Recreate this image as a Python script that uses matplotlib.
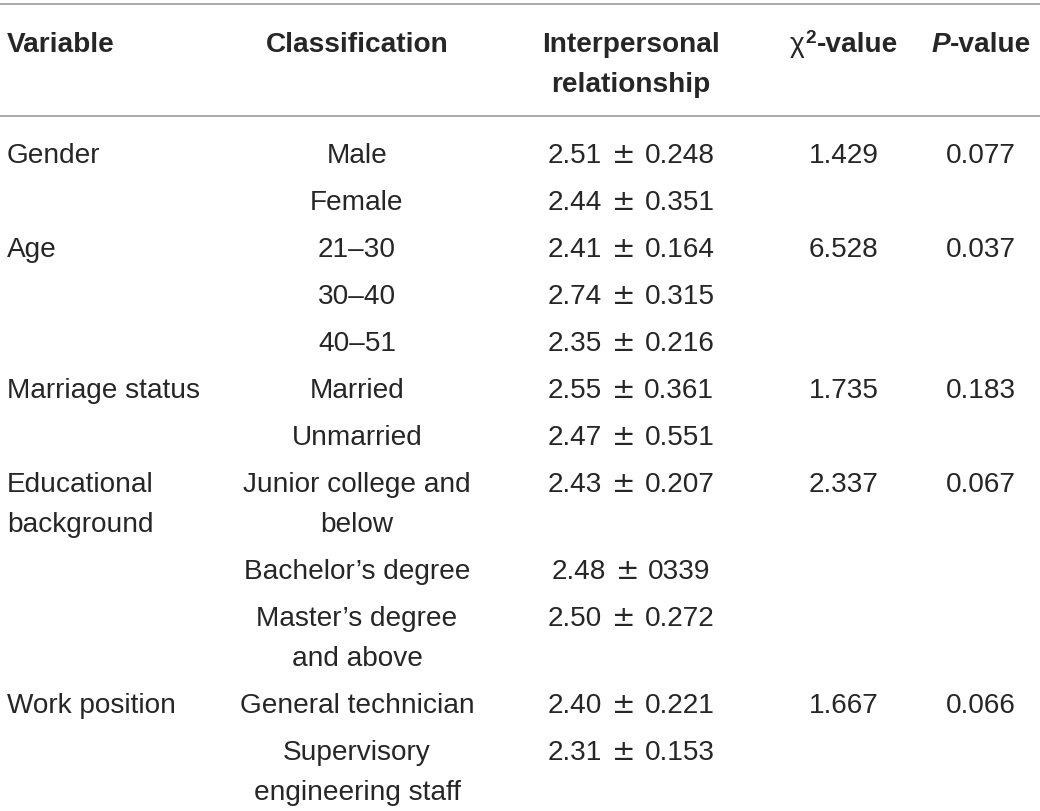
import matplotlib
matplotlib.use("Agg")
import matplotlib.pyplot as plt

plt.rcParams['font.family'] = ['Liberation Sans', 'DejaVu Sans']

# ---- data ----
variables = ["Gender", "", "Age", "", "", "Marriage status", "",
             "Educational\nbackground", "", "", "Work position", ""]
classifications = ["Male", "Female", "21\u201330", "30\u201340", "40\u201351",
                   "Married", "Unmarried", "Junior college and\nbelow",
                   "Bachelor\u2019s degree", "Master\u2019s degree\nand above",
                   "General technician", "Supervisory\nengineering staff"]
means = ["2.51", "2.44", "2.41", "2.74", "2.35", "2.55", "2.47", "2.43",
         "2.48", "2.50", "2.40", "2.31"]
sds = ["0.248", "0.351", "0.164", "0.315", "0.216", "0.361", "0.551",
       "0.207", "0339", "0.272", "0.221", "0.153"]
chi2_values = ["1.429", "", "6.528", "", "", "1.735", "", "2.337", "", "",
               "1.667", ""]
p_values = ["0.077", "", "0.037", "", "", "0.183", "", "0.067", "", "",
            "0.066", ""]

# ---- layout ----
W, H = 1040, 812
fig = plt.figure(figsize=(W / 100, H / 100), dpi=100)
ax = fig.add_axes([0, 0, 1, 1])
ax.set_xlim(0, W)
ax.set_ylim(H, 0)
ax.axis('off')
fig.canvas.draw()
R = fig.canvas.get_renderer()

fs = 20.2
txt_color = '#262626'
line_color = '#9a9a9a'

col_var_x = 7
col_cls_x = 357
col_ir_x = 631
col_chi_x = 844
col_p_x = 981


def group_center(xc, y, parts):
    """parts: list of (string, kwargs, dy, gap_after). Draw side by side, centered at xc."""
    objs = []
    widths = []
    for s, kw, dy, gap in parts:
        t = ax.text(0, y + dy, s, ha='left', va='baseline', color=txt_color, **kw)
        objs.append((t, gap))
        widths.append(t.get_window_extent(R).width)
    total = sum(widths) + sum(g for _, g in objs[:-1])
    x = xc - total / 2
    for (t, gap), w in zip(objs, widths):
        t.set_x(x)
        x += w + gap


# horizontal rules
ax.plot([0, W], [5, 5], color=line_color, lw=1.2, solid_capstyle='butt')
ax.plot([0, W], [117, 117], color=line_color, lw=1.2, solid_capstyle='butt')

# header
hdr_base = 52
line_gap = 40
B = dict(fontsize=fs, fontweight='bold')
ax.text(col_var_x, hdr_base, "Variable", color=txt_color, ha='left', va='baseline', **B)
ax.text(col_cls_x, hdr_base, "Classification", color=txt_color, ha='center', va='baseline', **B)
ax.text(col_ir_x, hdr_base, "Interpersonal", color=txt_color, ha='center', va='baseline', **B)
ax.text(col_ir_x, hdr_base + line_gap, "relationship", color=txt_color, ha='center',
        va='baseline', **B)
group_center(col_chi_x, hdr_base, [
    ("\u03c7", dict(fontsize=fs), 0, 1),
    ("2", dict(fontsize=fs * 0.68, fontweight='bold'), -9, 1),
    ("-value", B, 0, 0),
])
group_center(col_p_x, hdr_base, [
    ("P", dict(fontsize=fs, fontweight='bold', style='italic'), 0, 0),
    ("-value", B, 0, 0),
])

# body
row_gap = 47
y = 163
N = dict(fontsize=fs)
for i in range(len(classifications)):
    nlines = max(variables[i].count("\n"), classifications[i].count("\n")) + 1
    kw = dict(fontsize=fs, color=txt_color, va='baseline')
    for j, s in enumerate(variables[i].split("\n")):
        if s:
            ax.text(col_var_x, y + j * line_gap, s, ha='left', **kw)
    for j, s in enumerate(classifications[i].split("\n")):
        ax.text(col_cls_x, y + j * line_gap, s, ha='center', **kw)
    group_center(col_ir_x, y, [
        (means[i], N, 0, 10),
        ("\u00b1", dict(fontsize=fs, family='DejaVu Sans'), 0, 9),
        (sds[i], N, 0, 0),
    ])
    if chi2_values[i]:
        ax.text(col_chi_x, y, chi2_values[i], ha='center', **kw)
    if p_values[i]:
        ax.text(col_p_x, y, p_values[i], ha='center', **kw)
    y += (nlines - 1) * line_gap + row_gap

fig.savefig("out.png", dpi=100, facecolor='white')
